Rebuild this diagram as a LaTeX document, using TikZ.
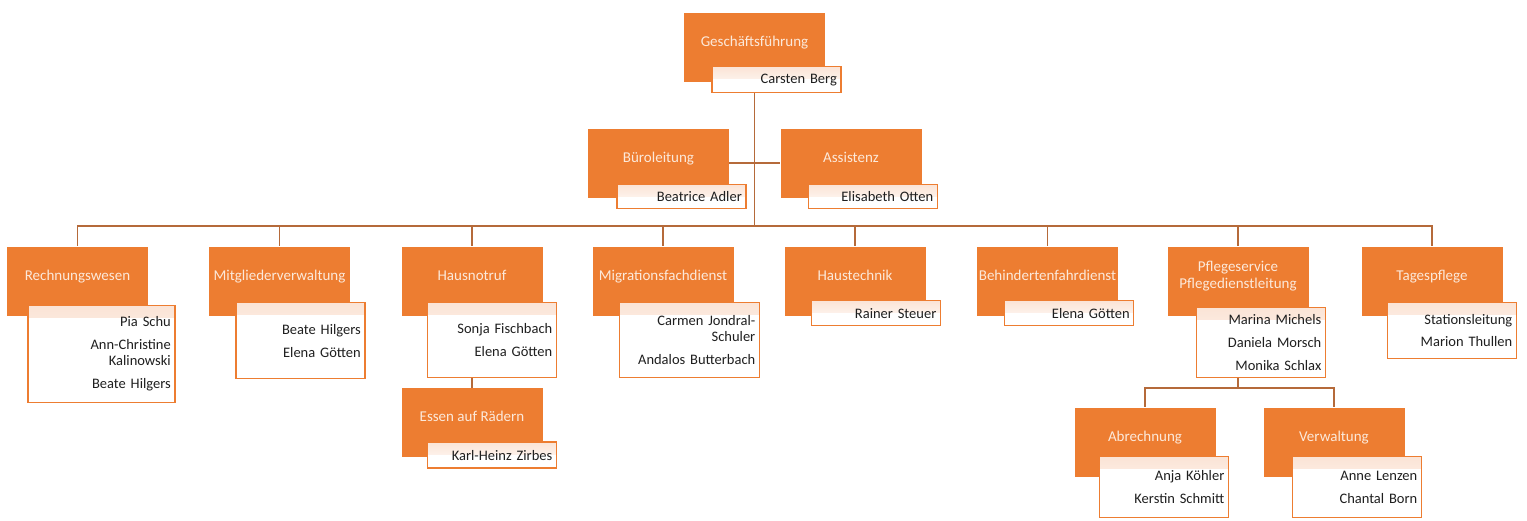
\documentclass[tikz,border=0pt]{standalone}
\usepackage{fontspec}
\setmainfont{Carlito}
\usepackage{tikz}
\usetikzlibrary{positioning}

\definecolor{unitorange}{HTML}{ED7D31}
\definecolor{titlecream}{HTML}{FCE9DA}
\definecolor{linkbrown}{HTML}{B56A3A}
\definecolor{nametint}{HTML}{FBE4D6}

\tikzset{
  unit/.style={fill=unitorange, text=titlecream, minimum width=141pt,
    minimum height=69pt, text depth=12pt, inner sep=2pt, align=center,
    font=\fontsize{15pt}{17pt}\selectfont},
  names/.style={draw=unitorange, line width=1.5pt, fill=white, text=black!88,
    path picture={\fill[top color=nametint, bottom color=white]
      (path picture bounding box.north west) rectangle
      ([yshift=-12pt]path picture bounding box.north east);},
    align=right, text width=121pt, inner xsep=4pt, inner ysep=2pt,
    minimum height=25pt, outer sep=0pt},
  link/.style={draw=linkbrown, line width=1.6pt}
}

\begin{document}
\begin{tikzpicture}[x=1pt,y=-1pt,font=\fontsize{14.5pt}{16pt}\selectfont]
  \useasboundingbox (0,0) rectangle (1527,520);

  \node (gf) [unit] at (754.5,47) {Geschäftsführung};
  \node (gfname) [names, below right=-15pt and 28pt of gf.south west, minimum height=26pt] {Carsten Berg};

  \node (bl) [unit] at (658.5,163) {Büroleitung};
  \node (blname) [names, below right=-13pt and 29pt of bl.south west, minimum height=24pt] {Beatrice Adler};
  \node (as) [unit] at (851,163) {Assistenz};
  \node (asname) [names, below right=-13pt and 28pt of as.south west, minimum height=24pt] {Elisabeth Otten};

  \node (rw) [unit] at (77.5,281) {Rechnungswesen};
  \node (rwname) [names, below right=-10pt and 21pt of rw.south west, minimum height=97pt, text width=139pt]
    {Pia Schu\\[7pt]Ann-Christine\\Kalinowski\\[7pt]Beate Hilgers};
  \node (mv) [unit] at (279.5,281) {Mitgliederverwaltung};
  \node (mvname) [names, below right=-13pt and 27pt of mv.south west, minimum height=76pt]
    {Beate Hilgers\\[7pt]Elena Götten};
  \node (hn) [unit] at (472,281) {Hausnotruf};
  \node (hnname) [names, below right=-13pt and 26pt of hn.south west, minimum height=75pt]
    {Sonja Fischbach\\[7pt]Elena Götten};
  \node (mf) [unit] at (663,281) {Migrationsfachdienst};
  \node (mfname) [names, below right=-13pt and 27pt of mf.south west, minimum height=75pt, text width=132pt]
    {Carmen Jondral-\\Schuler\\[7pt]Andalos Butterbach};
  \node (ht) [unit] at (855,281) {Haustechnik};
  \node (htname) [names, below right=-15pt and 27pt of ht.south west, minimum height=25pt] {Rainer Steuer};
  \node (bf) [unit] at (1047.5,281) {Behindertenfahrdienst};
  \node (bfname) [names, below right=-15pt and 28pt of bf.south west, minimum height=25pt] {Elena Götten};
  \node (ps) [unit] at (1238,281) {Pflegeservice\\Pflegedienstleitung};
  \node (psname) [names, below right=-8pt and 29pt of ps.south west, minimum height=70pt]
    {Marina Michels\\[7pt]Daniela Morsch\\[7pt]Monika Schlax};
  \node (tp) [unit] at (1432,281) {Tagespflege};
  \node (tpname) [names, below right=-13pt and 26pt of tp.south west, minimum height=56pt]
    {Stationsleitung\\[6pt]Marion Thullen};

  \node (ea) [unit] at (472,422.5) {Essen auf Rädern};
  \node (eaname) [names, below right=-15pt and 26pt of ea.south west, minimum height=26pt] {Karl-Heinz Zirbes};

  \node (ab) [unit] at (1145,442) {Abrechnung};
  \node (abname) [names, below right=-20pt and 25pt of ab.south west, minimum height=61pt]
    {Anja Köhler\\[7pt]Kerstin Schmitt};
  \node (vw) [unit] at (1334,442) {Verwaltung};
  \node (vwname) [names, below right=-20pt and 29pt of vw.south west, minimum height=61pt]
    {Anne Lenzen\\[7pt]Chantal Born};

  \coordinate (gfbase) at (gf.south |- gfname.south);
  \coordinate (bus) at (754.5,226);
  \coordinate (psbus) at (1238,388);

  \draw[link] (gfbase) -- (bus);
  \draw[link] (bl) -- (as);
  \foreach \u in {rw,mv,hn,mf,ht,bf,ps,tp}
    \draw[link] (bus) -| (\u.north);
  \draw[link] (hn.south |- hnname.south) -- (ea.north);
  \draw[link] (ps.south |- psname.south) -- (psbus);
  \draw[link] (psbus) -| (ab.north);
  \draw[link] (psbus) -| (vw.north);
\end{tikzpicture}
\end{document}
